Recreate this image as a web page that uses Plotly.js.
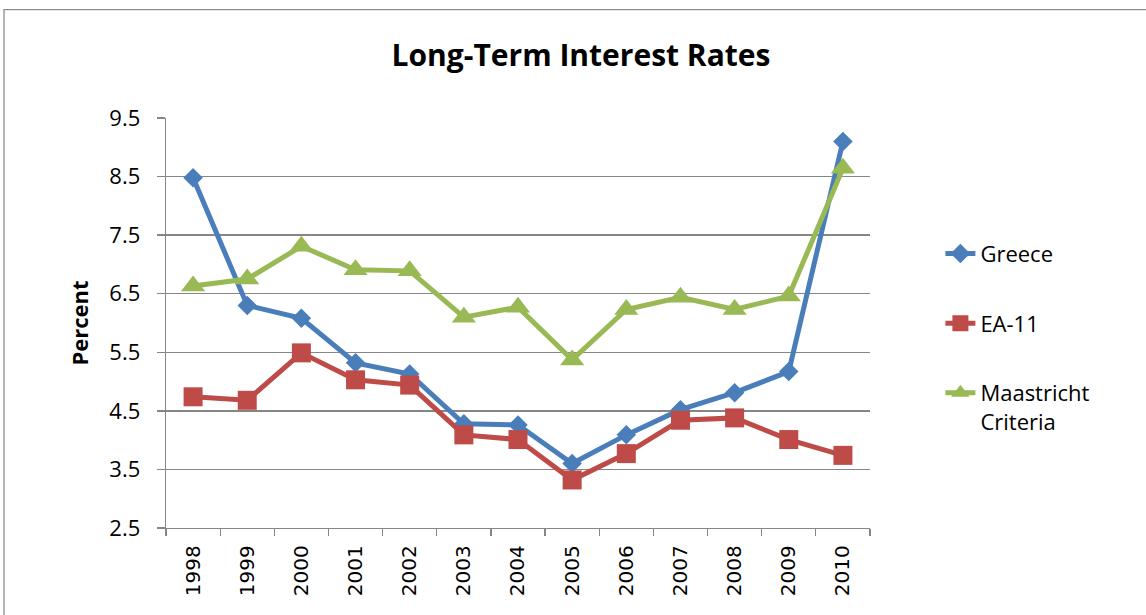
<!DOCTYPE html>
<html><head><meta charset="utf-8">
<script src="https://cdn.plot.ly/plotly-3.0.1.min.js"></script>
<style>html,body{margin:0;padding:0;background:#fff;}#chart{width:1146px;height:615px;}</style>
</head><body><div id="chart"></div>
<script>
const years = ['1998','1999','2000','2001','2002','2003','2004','2005','2006','2007','2008','2009','2010'];
const greece = [8.48, 6.30, 6.08, 5.32, 5.13, 4.28, 4.26, 3.60, 4.09, 4.52, 4.81, 5.17, 9.10];
const ea11 = [4.74, 4.68, 5.49, 5.03, 4.94, 4.09, 4.01, 3.32, 3.77, 4.34, 4.38, 4.01, 3.74];
const maastricht = [6.63, 6.75, 7.31, 6.91, 6.89, 6.10, 6.27, 5.37, 6.23, 6.44, 6.23, 6.46, 8.64];
const seriesNames = ['Greece', 'EA-11', 'Maastricht<br>Criteria'];
const yTicks = [2.5, 3.5, 4.5, 5.5, 6.5, 7.5, 8.5, 9.5];

const colors = ['#4a7ebb', '#be4b48', '#98b954'];
const symbols = ['diamond', 'square', 'triangle-up'];
const sizes = [15, 19, 21];
const data = [greece, ea11, maastricht].map((vals, i) => ({
  x: years, y: vals, name: seriesNames[i], type: 'scatter', mode: 'lines+markers',
  legendgroup: 'g' + i,
  line: {color: colors[i], width: 5},
  marker: {symbol: symbols[i], size: sizes[i], color: colors[i]},
  cliponaxis: false
}));

const layout = {
  width: 1146, height: 615,
  margin: {l: 166, r: 276, t: 118, b: 87},
  paper_bgcolor: '#ffffff', plot_bgcolor: '#ffffff',
  title: {text: '<b>Long-Term Interest Rates</b>', font: {family: 'Open Sans', size: 30, color: '#000'},
          x: 0.507, xref: 'container', xanchor: 'center', y: 0.91, yref: 'container', yanchor: 'middle'},
  xaxis: {
    type: 'category', range: [-0.5, 12.5], tickangle: -90,
    tickson: 'boundaries', ticks: 'outside', ticklen: 7, tickcolor: '#868686', tickwidth: 1.3,
    showline: true, linecolor: '#868686', linewidth: 1.3, showgrid: false, zeroline: false,
    tickfont: {family: 'DejaVu Sans', size: 20, color: '#000'}, ticklabelstandoff: 8,
    fixedrange: true
  },
  yaxis: {
    range: [2.5, 9.5], tickvals: yTicks, ticktext: yTicks.map(v => v.toFixed(1)),
    ticks: 'outside', ticklen: 8, tickcolor: '#868686', tickwidth: 1.3,
    showline: true, linecolor: '#868686', linewidth: 1.3,
    showgrid: true, gridcolor: '#868686', gridwidth: 1.5, zeroline: false,
    tickfont: {family: 'Open Sans', size: 22, color: '#000'}, ticklabelstandoff: 12,
    title: {text: '<b>Percent</b>', font: {family: 'Open Sans', size: 22, color: '#000'}, standoff: 14},
    fixedrange: true
  },
  legend: {
    x: 1.1, xanchor: 'left', y: 0.72, yanchor: 'top',
    font: {family: 'Open Sans', size: 22, color: '#000'},
    traceorder: 'grouped', tracegroupgap: 38, valign: 'top',
    bgcolor: 'rgba(0,0,0,0)', borderwidth: 0
  },
  shapes: [{type: 'rect', xref: 'paper', yref: 'paper', x0: -0.2301, x1: 1.40, y0: -0.23, y1: 1.2645,
            line: {color: '#8c8c8c', width: 1.3}, fillcolor: 'rgba(0,0,0,0)', layer: 'below'}],
  showlegend: true
};
Plotly.newPlot('chart', data, layout, {displayModeBar: false, staticPlot: true});
</script></body></html>
